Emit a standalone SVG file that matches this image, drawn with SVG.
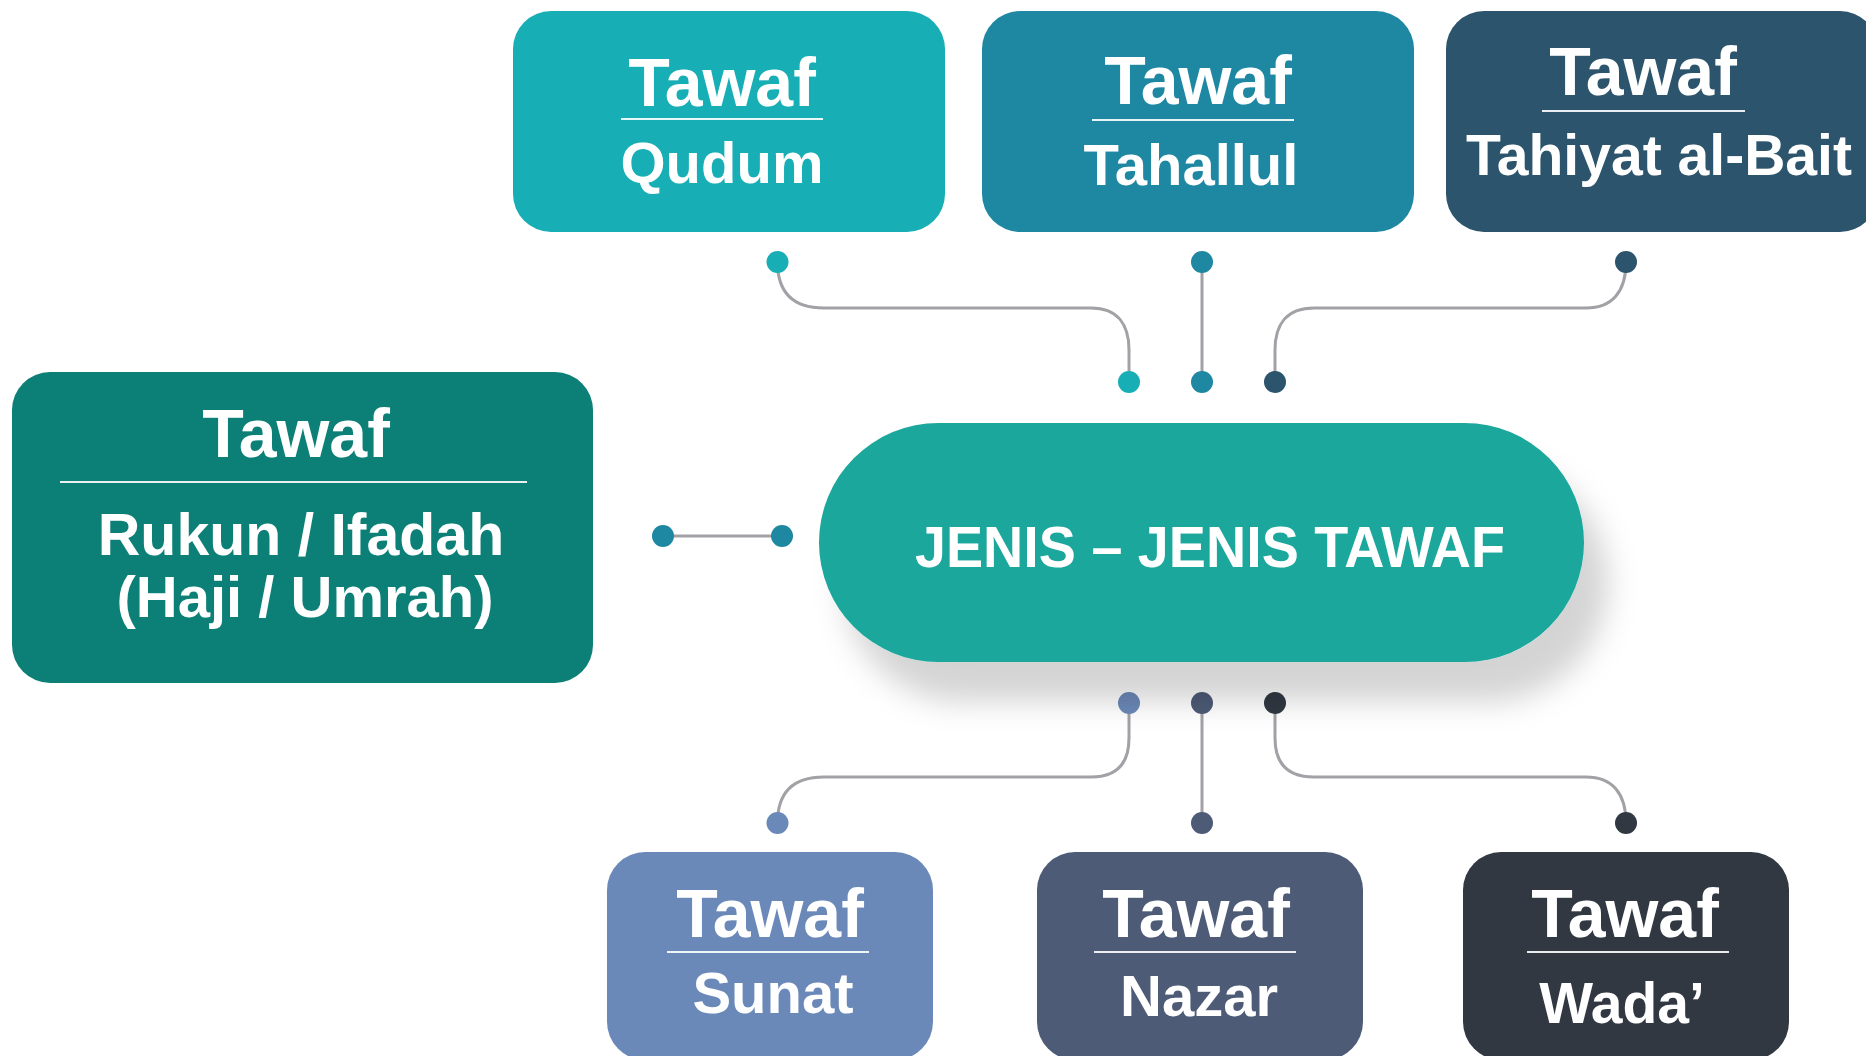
<svg xmlns="http://www.w3.org/2000/svg" width="1866" height="1056" viewBox="0 0 1866 1056">
<defs>
<style>
.t{font-family:"Liberation Sans",Arial,sans-serif;font-weight:bold;fill:#ffffff;text-anchor:middle}
.h{font-size:68px}
.s{font-size:58px}
.ul{stroke:#ffffff;stroke-width:2;opacity:0.9}
.c{fill:none;stroke:#a1a1a6;stroke-width:3;stroke-linecap:round}
</style>
<filter id="sh" x="-10%" y="-20%" width="130%" height="170%">
<feDropShadow dx="24" dy="40" stdDeviation="15" flood-color="#000" flood-opacity="0.17"/>
</filter>
</defs>
<rect width="1866" height="1056" fill="#ffffff"/>

<g id="connectors">
<path class="c" d="M777.5,262 C777.5,292 792,308 824,308 H1091 C1118,308 1129,325 1129,350 V382"/>
<path class="c" d="M1202,262 V382"/>
<path class="c" d="M1626,262 C1626,292 1612,308 1586,308 H1314 C1286,308 1275,325 1275,350 V382"/>
<path class="c" d="M663,536 H782"/>
<path class="c" d="M1129,703 V738 C1129,762 1118,777 1091,777 H824 C792,777 777.5,793 777.5,823"/>
<path class="c" d="M1202,703 V823"/>
<path class="c" d="M1275,703 V738 C1275,762 1286,777 1314,777 H1586 C1612,777 1626,793 1626,823"/>
<circle cx="777.5" cy="262" r="11" fill="#17aeb5"/>
<circle cx="1202" cy="262" r="11" fill="#1e87a2"/>
<circle cx="1626" cy="262" r="11" fill="#2c546c"/>
<circle cx="1129" cy="382" r="11" fill="#17aeb5"/>
<circle cx="1202" cy="382" r="11" fill="#1e87a2"/>
<circle cx="1275" cy="382" r="11" fill="#2c546c"/>
<circle cx="663" cy="536" r="11" fill="#1e87a2"/>
<circle cx="782" cy="536" r="11" fill="#1e87a2"/>
<circle cx="1129" cy="703" r="11" fill="#6b89b8"/>
<circle cx="1202" cy="703" r="11" fill="#4d5b77"/>
<circle cx="1275" cy="703" r="11" fill="#313842"/>
<circle cx="777.5" cy="823" r="11" fill="#6b89b8"/>
<circle cx="1202" cy="823" r="11" fill="#4d5b77"/>
<circle cx="1626" cy="823" r="11" fill="#313842"/>
</g>

<g id="center">
<rect x="819" y="423" width="765" height="239" rx="119.5" fill="#1aa79d" filter="url(#sh)"/>
<text class="t" x="1210" y="567" font-size="57" textLength="590" lengthAdjust="spacingAndGlyphs">JENIS – JENIS TAWAF</text>
</g>

<g id="qudum">
<rect x="513" y="11" width="432" height="221" rx="38" fill="#17aeb5"/>
<text class="t h" x="722" y="106">Tawaf</text>
<line class="ul" x1="621" y1="119" x2="823" y2="119"/>
<text class="t s" x="722" y="183">Qudum</text>
</g>

<g id="tahallul">
<rect x="982" y="11" width="432" height="221" rx="38" fill="#1e87a2"/>
<text class="t h" x="1198" y="104">Tawaf</text>
<line class="ul" x1="1092" y1="120" x2="1294" y2="120"/>
<text class="t s" x="1191" y="185">Tahallul</text>
</g>

<g id="tahiyat">
<rect x="1446" y="11" width="432" height="221" rx="38" fill="#2c546c"/>
<text class="t h" x="1643" y="95">Tawaf</text>
<line class="ul" x1="1542" y1="111" x2="1745" y2="111"/>
<text class="t s" x="1659" y="175" textLength="386" lengthAdjust="spacingAndGlyphs">Tahiyat al-Bait</text>
</g>

<g id="rukun">
<rect x="12" y="372" width="581" height="311" rx="38" fill="#0c8077"/>
<text class="t h" x="296" y="457">Tawaf</text>
<line class="ul" x1="60" y1="482" x2="527" y2="482"/>
<text class="t" x="301" y="555" font-size="59">Rukun / Ifadah</text>
<text class="t" x="305" y="617" font-size="58">(Haji / Umrah)</text>
</g>

<g id="sunat">
<rect x="607" y="852" width="326" height="208" rx="38" fill="#6b89b8"/>
<text class="t h" x="770" y="937">Tawaf</text>
<line class="ul" x1="667" y1="952" x2="869" y2="952"/>
<text class="t s" x="773" y="1013">Sunat</text>
</g>

<g id="nazar">
<rect x="1037" y="852" width="326" height="208" rx="38" fill="#4d5b77"/>
<text class="t h" x="1196" y="937">Tawaf</text>
<line class="ul" x1="1094" y1="952" x2="1296" y2="952"/>
<text class="t s" x="1199" y="1016">Nazar</text>
</g>

<g id="wada">
<rect x="1463" y="852" width="326" height="208" rx="38" fill="#313842"/>
<text class="t h" x="1625" y="937">Tawaf</text>
<line class="ul" x1="1527" y1="952" x2="1729" y2="952"/>
<text class="t" x="1622" y="1023" font-size="57">Wada’</text>
</g>
</svg>
